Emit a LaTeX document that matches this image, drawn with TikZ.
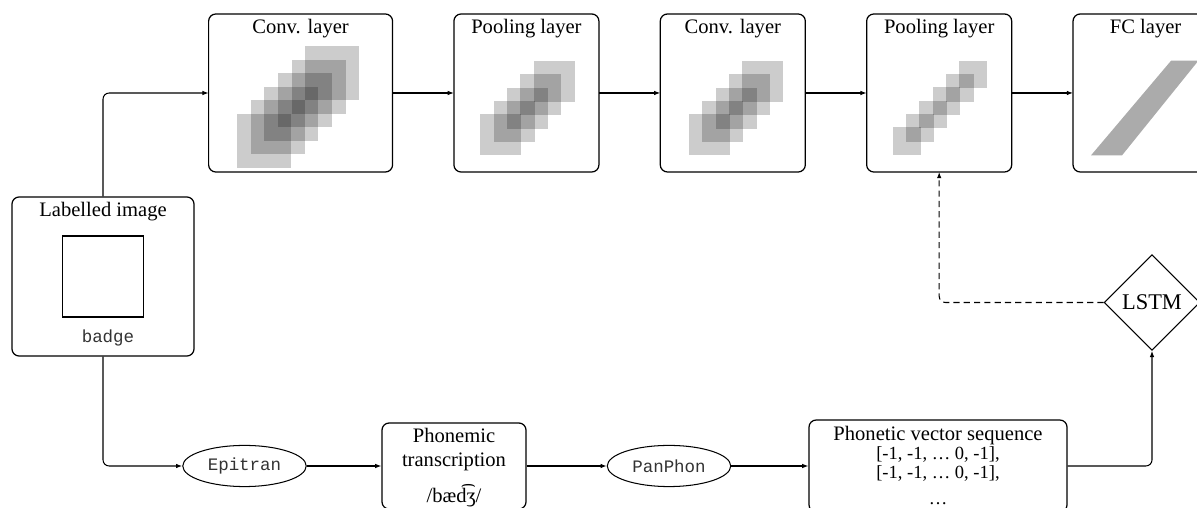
\documentclass[tikz,border=0pt]{standalone}
\usepackage{fontspec}
\setmainfont{Liberation Serif}
\setmonofont[Scale=0.85]{Liberation Mono}
\usetikzlibrary{matrix,shapes.geometric,arrows.meta}

\tikzset{
    box/.style={draw, rectangle, rounded corners=3.5pt, line width=0.6pt},
    tool/.style={draw, ellipse, line width=0.5pt, minimum width=60pt, minimum height=20pt, inner sep=0pt, font=\ttfamily, text=black!80},
    patch/.style={fill=black, fill opacity=0.2},
    link/.style={-{Latex[length=3pt,width=2.2pt]}, line width=0.5pt, rounded corners=3pt},
    title/.style={anchor=north, inner sep=2.5pt},
}

% squares of one layer: node, size, last index, first centre x, y, step
\def\Patches#1#2#3#4#5#6{
    \foreach \k in {0,...,#3}
        \fill[patch] ([shift={({#4+#6*\k-#2/2},{#5+#6*\k-#2/2})}]#1.center) rectangle ++(#2,#2);
}

\def\Layers{
    \matrix (layers)
    [matrix of nodes,
    nodes in empty cells,
    ampersand replacement=\&,
    column sep={29.2pt},
    inner sep=0pt, outer sep=0pt,
    anchor=west,
    nodes={box, outer sep=0pt, anchor=center, minimum width=70.5pt, minimum height=76.8pt}]
    at (208,415)
    {
     |[minimum width=89.4pt]| \& \& \& \& \\
    };
}

\begin{document}
\begin{tikzpicture}[x=0.486pt, y=0.486pt]
    \useasboundingbox (0,0) rectangle (1197,508);
    \Layers
    \node[title] (title-1) at (layers-1-1.north) {Conv. layer};
    \node[title] (title-2) at (layers-1-2.north) {Pooling layer};
    \node[title] (title-3) at (layers-1-3.north) {Conv. layer};
    \node[title] (title-4) at (layers-1-4.north) {Pooling layer};
    \node[title] (title-5) at (layers-1-5.north) {FC layer};

    \Patches{layers-1-1}{54}{5}{-36.3}{-48}{13.6}
    \Patches{layers-1-2}{41}{4}{-25.5}{-41.7}{13.3}
    \Patches{layers-1-3}{41}{4}{-23.3}{-41.7}{13.3}
    \Patches{layers-1-4}{27.7}{5}{-32.5}{-48}{13.3}
    \fill[black!33] ([shift={(-54.5,-62.3)}]layers-1-5.center) -- ++(31,0)
        -- ([shift={(52.8,32.3)}]layers-1-5.center) -- ++(-27.3,0) -- cycle;

    % input
    \node[box, minimum width=88.5pt, minimum height=77.3pt] (img) at (103,231.5) {};
    \node[title] (img-title) at (img.north) {Labelled image};
    \node[draw, line width=0.6pt, minimum size=39.4pt] (photo) at (img.center) {};
    \node[font=\ttfamily, text=black!80] (word) at (108,170) {badge};

    % phonetic branch
    \node[tool] (epitran) at (244.5,42) {Epitran};
    \node[box, minimum width=70pt, minimum height=41.8pt] (phonemic) at (454,42) {};
    \node[title, align=center] (ipa) at (phonemic.north) {Phonemic\\transcription\\[5.5pt]/bæd͡ʒ/};
    \node[tool] (panphon) at (669,42) {PanPhon};
    \node[box, minimum width=125.4pt, minimum height=44.7pt] (phonetic) at (938,42) {};
    \node[title, inner sep=3.2pt, align=center, font=\fontsize{9}{9.2}\selectfont] (vectors) at (phonetic.north)
        {{\fontsize{10}{9.2}\selectfont Phonetic vector sequence}\\{}[-1, -1, … 0, -1],\\{}[-1, -1, … 0, -1],\\[3.5pt]…};
    \node[draw, diamond, line width=0.5pt, minimum size=46.5pt, inner sep=0pt, font=\fontsize{10.9}{12}\selectfont] (lstm) at (1152,205.5) {LSTM};

    \draw[link] (img.north) |- (layers-1-1.west);
    \draw[link] (layers-1-1) -- (layers-1-2);
    \draw[link] (layers-1-2) -- (layers-1-3);
    \draw[link] (layers-1-3) -- (layers-1-4);
    \draw[link] (layers-1-4) -- (layers-1-5);

    \draw[link] (img.south) |- (epitran.west);
    \draw[link] (epitran) -- (phonemic);
    \draw[link] (phonemic) -- (panphon);
    \draw[link] (panphon) -- (phonetic);
    \draw[link] (phonetic.east) -| (lstm.south);
    \draw[link, dash pattern=on 3pt off 2pt] (lstm.west) -| (layers-1-4.south);
\end{tikzpicture}
\end{document}
